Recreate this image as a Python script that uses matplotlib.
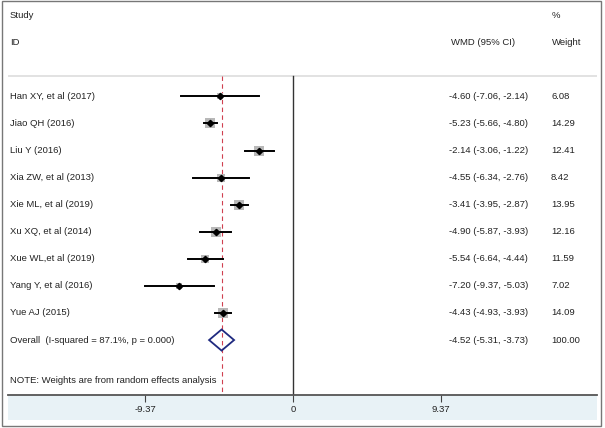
import matplotlib.pyplot as plt
import matplotlib.transforms as mtransforms
from matplotlib.patches import Rectangle, Polygon

plt.rcParams["font.family"] = ["Liberation Sans", "DejaVu Sans"]

studies = ["Han XY, et al (2017)", "Jiao QH (2016)", "Liu Y (2016)", "Xia ZW, et al (2013)",
           "Xie ML, et al (2019)", "Xu XQ, et al (2014)", "Xue WL,et al (2019)",
           "Yang Y, et al (2016)", "Yue AJ (2015)"]
wmd = [-4.60, -5.23, -2.14, -4.55, -3.41, -4.90, -5.54, -7.20, -4.43]
lower = [-7.06, -5.66, -3.06, -6.34, -3.95, -5.87, -6.64, -9.37, -4.93]
upper = [-2.14, -4.80, -1.22, -2.76, -2.87, -3.93, -4.44, -5.03, -3.93]
weights = [6.08, 14.29, 12.41, 8.42, 13.95, 12.16, 11.59, 7.02, 14.09]
overall = (-4.52, -5.31, -3.73)
overall_label = "Overall  (I-squared = 87.1%, p = 0.000)"
xticks = [-9.37, 0, 9.37]

W, H = 605, 428
fig = plt.figure(figsize=(W / 100, H / 100), dpi=100)
px = 15.8  # pixels per unit
x0 = 293
xl = ((8 - x0) / px, (597 - x0) / px)
ax = fig.add_axes([8 / W, (H - 395) / H, 589 / W, 392 / H])
ax.set_zorder(2)
ax.patch.set_alpha(0)
ax.set_xlim(*xl)
ax.set_ylim(11.03, -3.45)
for s in ["top", "left", "right"]:
    ax.spines[s].set_visible(False)
ax.spines["bottom"].set_color("#555555")
ax.spines["bottom"].set_linewidth(1.3)
ax.set_yticks([])
ax.set_xticks(xticks)
ax.set_xticklabels(["-9.37", "0", "9.37"])
ax.tick_params(axis="x", direction="out", length=5, width=0.8, color="#444444",
               labelsize=6.8, pad=2.5, labelcolor="#222222")

# background band and frame
fig.patches.append(Rectangle((8 / W, (H - 420) / H), 589 / W, 25 / H, transform=fig.transFigure,
                             facecolor="#e8f2f6", edgecolor="none", zorder=0))
fig.patches.append(Rectangle((2 / W, (H - 426) / H), 599 / W, 425 / H, transform=fig.transFigure,
                             facecolor="none", edgecolor="#777777", lw=1.0, zorder=5))

n = len(studies)
ax.axhline(-0.77, color="#dddddd", lw=1.2)
ax.plot([0, 0], [-0.77, 11.03], color="#333333", lw=1.0)
ax.plot([overall[0], overall[0]], [-0.77, 11.03], color="#d04050", lw=0.8, ls=(0, (4, 3)))

for i in range(n):
    ax.plot([lower[i], upper[i]], [i, i], color="black", lw=1.4, zorder=3)
    ax.scatter(wmd[i], i, s=3.6 * weights[i], marker="s", color="#b8b8b8", zorder=2, lw=0)
    ax.plot(wmd[i], i, marker="D", ms=3.2, color="black", zorder=4)

yo = n
dia = Polygon([[overall[1], yo], [overall[0], yo - 0.39], [overall[2], yo], [overall[0], yo + 0.39]],
              closed=True, facecolor="none", edgecolor="#1f2a80", lw=1.3, zorder=4)
ax.add_patch(dia)

tr = mtransforms.blended_transform_factory(fig.transFigure, ax.transData)
fs = 6.8
tc = "#222222"
ax.text(10 / W, -2.99, "Study", transform=tr, fontsize=fs, va="center", color=tc)
ax.text(10 / W, -1.99, "ID", transform=tr, fontsize=fs, va="center", color=tc)
ax.text(451 / W, -1.99, "WMD (95% CI)", transform=tr, fontsize=fs, va="center", color=tc)
ax.text(552 / W, -2.99, "%", transform=tr, fontsize=fs, va="center", color=tc)
ax.text(552 / W, -1.99, "Weight", transform=tr, fontsize=fs, va="center", color=tc)

for i in range(n):
    ax.text(10 / W, i, studies[i], transform=tr, fontsize=fs, va="center", color=tc)
    ax.text(449 / W, i, f"{wmd[i]:.2f} ({lower[i]:.2f}, {upper[i]:.2f})", transform=tr,
            fontsize=fs, va="center", color=tc)
    ax.text(551 / W, i, f"{weights[i]:.2f}", transform=tr, fontsize=fs, va="center", color=tc)

ax.text(10 / W, yo, overall_label, transform=tr, fontsize=fs, va="center", color=tc)
ax.text(449 / W, yo, f"{overall[0]:.2f} ({overall[1]:.2f}, {overall[2]:.2f})", transform=tr,
        fontsize=fs, va="center", color=tc)
ax.text(551 / W, yo, "100.00", transform=tr, fontsize=fs, va="center", color=tc)
ax.text(10 / W, 10.48, "NOTE: Weights are from random effects analysis", transform=tr,
        fontsize=fs, va="center", color=tc)

fig.savefig("out.png", dpi=100)
